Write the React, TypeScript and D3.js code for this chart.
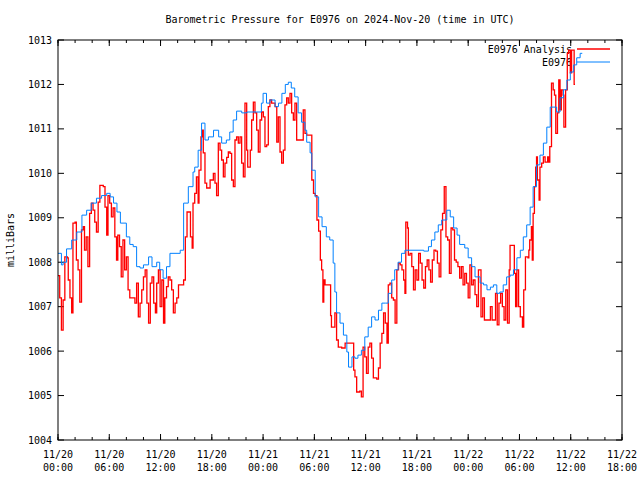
import React from "react";
import * as d3 from "d3";

// hours since 2024-11-20 00:00 UTC, pressure in mb
const analysisSeries: [number, number][] = [
  [0, 1007.7], [0.2, 1007.2], [0.4, 1006.47], [0.6, 1007.15], [0.8, 1008.12], [1.1, 1008.1],
  [1.2, 1007.6], [1.4, 1007.2], [1.6, 1006.86], [1.75, 1008.88], [2.0, 1008.9], [2.15, 1008.05],
  [2.35, 1007.83], [2.55, 1007.1], [2.75, 1008.73], [2.95, 1008.8], [3.1, 1008.27], [3.3, 1008.57],
  [3.5, 1007.9], [3.7, 1009.1], [3.9, 1009.33], [4.1, 1009.17], [4.3, 1008.9], [4.5, 1008.68],
  [4.7, 1009.35], [4.9, 1009.73], [5.3, 1009.7], [5.5, 1009.24], [5.7, 1008.61], [5.85, 1009.5],
  [6.05, 1009.33], [6.25, 1009.02], [6.45, 1009.22], [6.65, 1008.57], [6.85, 1008.05], [7.0, 1008.61],
  [7.2, 1008.35], [7.4, 1007.67], [7.6, 1008.5], [7.8, 1007.83], [8.0, 1008.12], [8.2, 1007.38],
  [8.4, 1007.2], [8.8, 1007.2], [9.0, 1007.08], [9.2, 1007.53], [9.4, 1006.77], [9.6, 1007.08],
  [9.8, 1007.38], [10.0, 1007.67], [10.2, 1007.83], [10.4, 1007.08], [10.6, 1006.63], [10.8, 1007.53],
  [11.0, 1007.67], [11.2, 1007.08], [11.4, 1006.86], [11.55, 1007.53], [11.75, 1007.83], [11.95, 1007.0],
  [12.15, 1007.6], [12.35, 1006.63], [12.5, 1007.2], [12.7, 1007.45], [12.9, 1007.67], [13.1, 1007.6],
  [13.3, 1007.38], [13.5, 1006.86], [13.7, 1007.08], [13.9, 1007.2], [14.1, 1007.49], [14.5, 1007.49],
  [14.7, 1007.6], [14.9, 1008.57], [15.1, 1009.13], [15.4, 1009.13], [15.5, 1008.57], [15.7, 1008.32],
  [15.8, 1009.33], [16.0, 1009.55], [16.2, 1009.92], [16.4, 1009.33], [16.5, 1010.07], [16.73, 1010.82],
  [16.89, 1010.97], [17.0, 1010.46], [17.2, 1009.78], [17.4, 1009.67], [17.8, 1009.85], [18.18, 1010.0],
  [18.37, 1009.78], [18.56, 1009.5], [18.76, 1010.68], [18.96, 1010.52], [19.15, 1010.3], [19.35, 1009.92],
  [19.54, 1010.23], [19.74, 1010.36], [19.93, 1010.48], [20.13, 1010.45], [20.32, 1009.85], [20.52, 1009.7],
  [20.71, 1010.75], [20.9, 1010.82], [21.1, 1010.68], [21.3, 1010.82], [21.49, 1010.23], [21.69, 1009.92],
  [21.88, 1011.58], [22.08, 1010.52], [22.2, 1010.14], [22.5, 1010.52], [22.66, 1011.2], [22.86, 1011.6],
  [23.05, 1011.36], [23.25, 1010.97], [23.44, 1010.48], [23.64, 1011.2], [23.83, 1011.38], [24.03, 1011.27],
  [24.22, 1010.6], [24.42, 1010.64], [24.61, 1011.5], [24.8, 1011.65], [25.0, 1011.58], [25.4, 1011.5],
  [25.6, 1010.7], [25.78, 1011.27], [25.98, 1010.48], [26.17, 1010.23], [26.37, 1010.52], [26.56, 1011.54],
  [26.76, 1011.7], [26.95, 1011.58], [27.15, 1011.8], [27.34, 1011.36], [27.54, 1011.2], [27.73, 1011.58],
  [27.93, 1010.75], [28.5, 1010.75], [28.7, 1011.43], [28.9, 1010.9], [29.1, 1010.86], [29.5, 1010.86],
  [29.7, 1009.85], [29.9, 1009.55], [30.1, 1009.5], [30.3, 1008.95], [30.5, 1008.7], [30.7, 1008.05],
  [30.85, 1007.83], [31.0, 1007.1], [31.1, 1007.6], [31.25, 1007.49], [31.8, 1007.49], [31.9, 1006.8],
  [32.0, 1006.54], [32.3, 1006.54], [32.4, 1006.86], [32.6, 1006.25], [32.8, 1006.09], [33.2, 1006.07],
  [33.6, 1006.18], [34.4, 1006.18], [34.6, 1005.57], [34.75, 1005.42], [34.95, 1005.08], [35.3, 1005.1],
  [35.5, 1004.97], [35.7, 1006.09], [35.9, 1005.87], [36.1, 1005.5], [36.3, 1006.09], [36.5, 1006.18],
  [36.7, 1005.84], [36.9, 1005.4], [37.3, 1005.37], [37.5, 1005.62], [37.7, 1006.18], [37.9, 1006.4],
  [38.1, 1006.86], [38.3, 1006.63], [38.5, 1006.18], [38.65, 1007.49], [38.85, 1007.53], [39.05, 1007.2],
  [39.25, 1007.15], [39.45, 1006.63], [39.65, 1007.83], [39.85, 1007.98], [40.05, 1007.94], [40.25, 1007.83],
  [40.45, 1007.6], [40.6, 1007.3], [40.7, 1008.9], [40.9, 1008.77], [41.0, 1008.16], [41.2, 1008.2],
  [41.4, 1007.9], [41.6, 1007.38], [41.8, 1007.83], [42.0, 1007.6], [42.2, 1008.2], [42.4, 1007.98],
  [42.6, 1007.6], [42.8, 1007.42], [43.0, 1007.9], [43.2, 1008.05], [43.4, 1007.83], [43.6, 1007.55],
  [43.8, 1008.05], [44.0, 1008.27], [44.2, 1008.25], [44.4, 1007.98], [44.6, 1007.67], [44.8, 1008.73],
  [45.0, 1009.1], [45.2, 1009.7], [45.4, 1008.57], [45.6, 1008.5], [45.8, 1007.75], [46.0, 1008.77],
  [46.2, 1008.73], [46.4, 1008.05], [46.6, 1008.0], [46.8, 1007.9], [47.0, 1007.64], [47.2, 1007.9],
  [47.4, 1007.49], [47.6, 1007.75], [47.8, 1007.53], [48.0, 1007.2], [48.2, 1007.94], [48.4, 1007.49],
  [48.6, 1007.6], [48.8, 1007.27], [49.0, 1007.0], [49.2, 1007.83], [49.5, 1006.77], [49.7, 1007.2],
  [49.9, 1006.7], [50.4, 1006.7], [50.6, 1007.0], [50.8, 1006.7], [51.2, 1007.3], [51.4, 1006.59],
  [51.6, 1007.08], [51.8, 1007.3], [52.0, 1007.0], [52.2, 1006.7], [52.4, 1007.38], [52.6, 1006.63],
  [52.8, 1007.83], [52.9, 1008.38], [53.3, 1008.38], [53.4, 1007.75], [53.55, 1007.0], [53.7, 1007.83],
  [53.9, 1007.0], [54.1, 1006.77], [54.35, 1006.54], [54.5, 1007.38], [54.7, 1008.12], [55.0, 1008.1],
  [55.1, 1008.27], [55.2, 1008.5], [55.4, 1008.8], [55.5, 1008.05], [55.6, 1009.1], [55.75, 1009.7],
  [55.9, 1010.14], [56.0, 1010.37], [56.1, 1009.85], [56.3, 1009.4], [56.4, 1010.14], [56.6, 1010.23],
  [56.8, 1010.37], [57.0, 1010.25], [57.3, 1010.37], [57.4, 1010.25], [57.55, 1010.6], [57.75, 1012.03],
  [57.95, 1011.88], [58.1, 1011.76], [58.25, 1010.9], [58.45, 1011.36], [58.6, 1012.1], [58.75, 1011.43],
  [58.9, 1011.88], [59.1, 1011.76], [59.2, 1011.04], [59.4, 1011.88], [59.6, 1012.7], [59.75, 1012.77],
  [59.95, 1012.26], [60.1, 1012.77], [60.3, 1012.77], [60.4, 1012.0], [60.5, 1012.0],
];

const stationSeries: [number, number][] = [
  [0.0, 1008.2], [0.4, 1007.94], [0.6, 1008.0], [1.0, 1008.3], [1.6, 1008.5], [2.2, 1008.68],
  [2.8, 1009.06], [3.35, 1009.17], [3.9, 1009.33], [4.5, 1009.44], [5.1, 1009.5], [5.7, 1009.55],
  [6.1, 1009.47], [6.5, 1009.33], [6.9, 1009.13], [7.3, 1008.88], [8.0, 1008.57], [8.4, 1008.4],
  [8.8, 1008.35], [9.2, 1007.9], [9.6, 1007.87], [10.0, 1007.94], [10.6, 1008.12], [11.0, 1007.9],
  [11.55, 1008.0], [11.9, 1007.83], [12.3, 1007.64], [12.7, 1007.9], [13.1, 1008.2], [14.3, 1008.27],
  [14.7, 1009.33], [15.25, 1009.7], [15.8, 1010.03], [16.0, 1010.14], [16.4, 1010.52], [16.8, 1011.13],
  [17.2, 1010.75], [17.6, 1010.82], [18.2, 1010.97], [18.8, 1010.82], [19.15, 1010.68], [19.7, 1010.75],
  [20.1, 1010.93], [20.5, 1011.2], [20.9, 1011.4], [21.5, 1011.36], [22.1, 1011.38], [23.25, 1011.38],
  [23.8, 1011.58], [24.0, 1011.8], [24.4, 1011.58], [24.8, 1011.65], [25.4, 1011.5], [25.8, 1011.58],
  [26.2, 1011.8], [26.6, 1012.0], [26.95, 1012.05], [27.3, 1011.92], [27.7, 1011.72], [28.1, 1011.36],
  [28.5, 1011.15], [28.9, 1010.97], [29.1, 1010.7], [29.5, 1010.46], [29.7, 1010.07], [30.1, 1009.47],
  [30.5, 1009.02], [30.9, 1008.8], [31.4, 1008.57], [31.8, 1008.5], [32.2, 1007.98], [32.4, 1007.33],
  [32.6, 1006.86], [33.0, 1006.63], [33.4, 1006.36], [33.8, 1005.98], [34.0, 1005.64], [34.4, 1005.87],
  [34.75, 1005.84], [35.1, 1005.91], [35.5, 1006.02], [35.9, 1006.32], [36.3, 1006.54], [36.7, 1006.77],
  [37.1, 1006.7], [37.5, 1006.92], [37.9, 1007.08], [38.3, 1007.08], [38.65, 1007.3], [39.05, 1007.6],
  [39.4, 1007.83], [39.8, 1008.0], [40.2, 1008.2], [40.6, 1008.27], [42.8, 1008.25], [43.35, 1008.35],
  [43.7, 1008.5], [44.1, 1008.68], [44.5, 1008.84], [44.9, 1008.95], [45.5, 1009.17], [45.9, 1009.02],
  [46.3, 1008.77], [46.7, 1008.61], [47.0, 1008.4], [47.6, 1008.32], [48.0, 1008.1], [48.4, 1007.9],
  [48.8, 1007.67], [49.4, 1007.53], [49.8, 1007.49], [50.2, 1007.38], [50.6, 1007.44], [50.95, 1007.49],
  [51.35, 1007.3], [51.7, 1007.33], [52.1, 1007.49], [52.5, 1007.67], [52.9, 1007.71], [53.3, 1007.83],
  [53.7, 1008.1], [54.1, 1008.27], [54.45, 1008.57], [54.85, 1008.84], [55.25, 1009.24], [55.6, 1009.7],
  [56.0, 1010.19], [56.4, 1010.41], [56.8, 1010.68], [57.2, 1011.04], [57.6, 1011.49], [57.95, 1011.49],
  [58.35, 1011.38], [58.75, 1011.7], [59.15, 1011.88], [59.55, 1012.1], [59.95, 1012.28], [60.35, 1012.44],
  [60.7, 1012.6], [61.1, 1012.7], [61.35, 1012.7],
];

const yTicks = [1004, 1005, 1006, 1007, 1008, 1009, 1010, 1011, 1012, 1013];
const xMajorTicks = [0, 6, 12, 18, 24, 30, 36, 42, 48, 54, 60, 66];
const xMinorTicks = d3.range(0, 67, 2);
const legendLabels = ["E0976 Analysis", "E0976"];
const seriesColors = ["#ff0000", "#0080ff"];

const width = 640;
const height = 480;
const margin = { left: 58, right: 18, top: 40, bottom: 40 };
const font = "'DejaVu Sans Mono', 'Liberation Mono', monospace";

const pad = (n: number) => String(n).padStart(2, "0");

const App = () => {
  const x = d3.scaleLinear().domain([0, 66]).range([margin.left, width - margin.right]);
  const y = d3.scaleLinear().domain([1004, 1013]).range([height - margin.bottom, margin.top]);

  const line = d3
    .line<[number, number]>()
    .x((d) => x(d[0]))
    .y((d) => y(d[1]))
    .curve(d3.curveStepAfter);

  const [x0, x1] = x.range();
  const [yb, yt] = y.range();

  return (
    <svg
      width={width}
      height={height}
      style={{ position: "absolute", left: 0, top: 0, background: "#fff" }}
      fontFamily={font}
      fontSize={10}
    >
      <rect width={width} height={height} fill="#fff" />
      <text x={(x0 + x1) / 2} y={23} textAnchor="middle">
        Barometric Pressure for E0976 on 2024-Nov-20 (time in UTC)
      </text>

      {/* y ticks, mirrored */}
      {yTicks.map((t) => (
        <g key={"y" + t}>
          <line x1={x0} x2={x0 + 6} y1={y(t)} y2={y(t)} stroke="#000" />
          <line x1={x1} x2={x1 - 6} y1={y(t)} y2={y(t)} stroke="#000" />
          <text x={x0 - 6} y={y(t)} dy="0.35em" textAnchor="end">
            {t}
          </text>
        </g>
      ))}

      {/* x ticks, mirrored */}
      {xMinorTicks.map((t) => (
        <g key={"xm" + t}>
          <line x1={x(t)} x2={x(t)} y1={yb} y2={yb - 3} stroke="#000" />
          <line x1={x(t)} x2={x(t)} y1={yt} y2={yt + 3} stroke="#000" />
        </g>
      ))}
      {xMajorTicks.map((t) => (
        <g key={"x" + t}>
          <line x1={x(t)} x2={x(t)} y1={yb} y2={yb - 6} stroke="#000" />
          <line x1={x(t)} x2={x(t)} y1={yt} y2={yt + 6} stroke="#000" />
          <text x={x(t)} y={yb + 18} textAnchor="middle">
            {`11/${20 + Math.floor(t / 24)}`}
          </text>
          <text x={x(t)} y={yb + 31} textAnchor="middle">
            {`${pad(t % 24)}:00`}
          </text>
        </g>
      ))}

      <text transform={`translate(14,${(yb + yt) / 2}) rotate(-90)`} textAnchor="middle">
        milliBars
      </text>

      {/* legend */}
      {legendLabels.map((label, i) => (
        <g key={label}>
          <text x={572} y={49 + i * 13} dy="0.35em" textAnchor="end">
            {label}
          </text>
          <line x1={577} x2={610} y1={49 + i * 13} y2={49 + i * 13} stroke={seriesColors[i]} strokeWidth={i === 0 ? 1.3 : 1} />
        </g>
      ))}

      <path d={line(analysisSeries) ?? ""} fill="none" stroke={seriesColors[0]} strokeWidth={1.3} />
      <path d={line(stationSeries) ?? ""} fill="none" stroke={seriesColors[1]} strokeWidth={1} />

      <rect x={x0} y={yt} width={x1 - x0} height={yb - yt} fill="none" stroke="#000" />
    </svg>
  );
};

export default App;
